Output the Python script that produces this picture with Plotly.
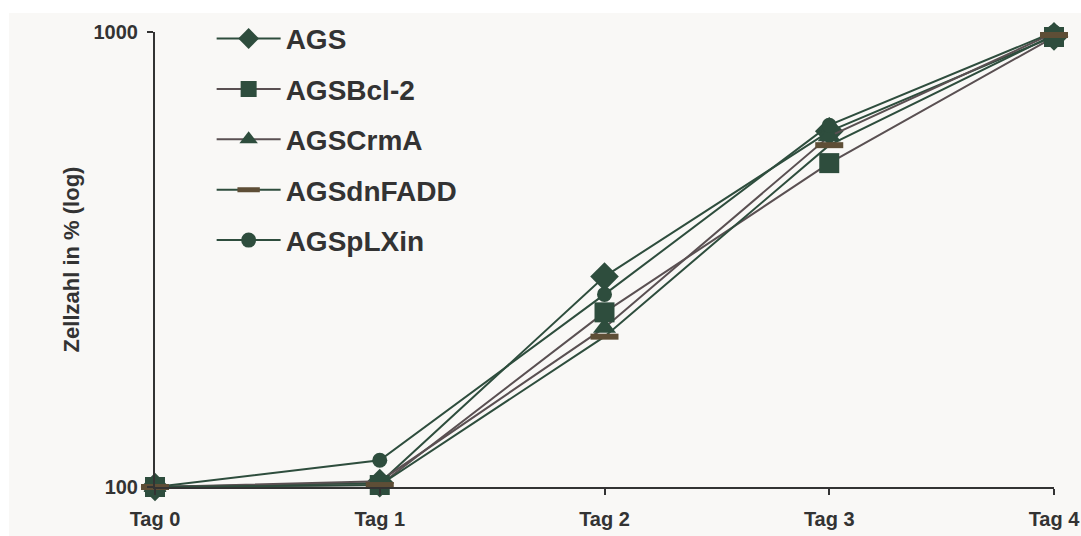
import plotly.graph_objects as go

days = ["Tag 0", "Tag 1", "Tag 2", "Tag 3", "Tag 4"]
ags = [100, 102, 290, 605, 978]
ags_bcl2 = [100, 101, 242, 515, 975]
ags_crma = [100, 103, 224, 590, 995]
ags_dnfadd = [100, 101, 214, 564, 985]
ags_plxin = [100, 114.5, 265, 624, 1000]

GREEN = "#2E4D3D"
GREYBR = "#5A5052"
BROWN = "#5E4E36"
FONT = "Liberation Sans, Arial, sans-serif"
TXT = "#333333"

xs = list(range(len(days)))

# (name, values, line colour, marker, legend rank); list order = drawing order
series = [
    ("AGS", ags, GREEN, dict(symbol="diamond", size=22, color=GREEN), 1),
    ("AGSCrmA", ags_crma, GREYBR, dict(symbol="triangle-up", size=20, color=GREEN), 3),
    ("AGSpLXin", ags_plxin, GREEN, dict(symbol="circle", size=15, color=GREEN), 5),
    ("AGSBcl-2", ags_bcl2, GREYBR, dict(symbol="square", size=20, color=GREEN), 2),
    ("AGSdnFADD", ags_dnfadd, GREEN, dict(symbol="line-ew", size=20, color=BROWN,
                                          line=dict(width=6, color=BROWN)), 4),
]

fig = go.Figure()
for name, vals, lc, mk, rank in series:
    fig.add_trace(go.Scatter(
        x=xs, y=vals, name=name, mode="lines+markers",
        line=dict(color=lc, width=2), marker=mk, cliponaxis=False,
        legendgroup=name, legendrank=rank,
    ))

W, H = 1081, 536
L, R, T, B = 155, 27, 32, 49
pw, ph = W - L - R, H - T - B

fig.add_shape(type="rect", xref="paper", yref="paper", layer="below",
              x0=(9 - L) / pw, x1=(W - L) / pw, y0=-B / ph, y1=1 + (T - 13) / ph,
              fillcolor="#F9F8F6", line=dict(width=0))

fig.update_layout(
    width=W, height=H,
    margin=dict(l=L, r=R, t=T, b=B),
    paper_bgcolor="white", plot_bgcolor="rgba(0,0,0,0)",
    font=dict(family=FONT, color=TXT),
    showlegend=True,
    legend=dict(x=0.063, y=1.04, xanchor="left", yanchor="top",
                bgcolor="rgba(0,0,0,0)", tracegroupgap=11, itemwidth=64,
                font=dict(size=28, family=FONT, color=TXT, weight="bold")),
    xaxis=dict(range=[0, 4], tickvals=xs, ticktext=days, showgrid=False,
               zeroline=False, showline=True, linecolor=TXT, linewidth=2,
               ticks="outside", ticklen=6, tickcolor=TXT, tickwidth=2,
               automargin=False, ticklabelstandoff=7,
               tickfont=dict(size=20, family=FONT, weight="bold", color=TXT)),
    yaxis=dict(type="log", range=[2, 3], tickvals=[100, 1000], ticktext=["100", "1000"],
               showgrid=False, zeroline=False, showline=True, linecolor=TXT,
               linewidth=2, ticks="outside", ticklen=6, tickcolor=TXT, tickwidth=2,
               automargin=False, ticklabelstandoff=5,
               tickfont=dict(size=20, family=FONT, weight="bold", color=TXT),
               title=dict(text="Zellzahl in % (log)", standoff=8,
                          font=dict(size=22, family=FONT, weight="bold", color=TXT))),
)

fig.write_html("out.html")
